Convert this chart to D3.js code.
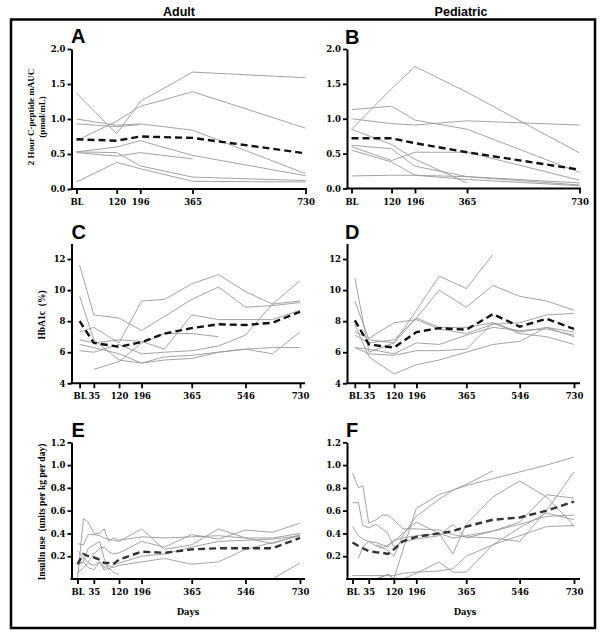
<!DOCTYPE html>
<html>
<head>
<meta charset="utf-8">
<script src="https://cdn.jsdelivr.net/npm/d3@7.9.0/dist/d3.min.js"></script>
<style>
  body { margin: 0; background: #fff; }
  svg { display: block; }
</style>
</head>
<body>
<svg id="chart" width="604" height="639"></svg>
<script>
// ---- C-peptide (panels A, B) ----
const cpepDays = [-10, 120, 196, 365, 730];
const cpepTicks = [-10, 120, 196, 365, 730];
const cpepTickLabels = ['BL', '120', '196', '365', '730'];
const cpepYTicks = [0, 0.5, 1, 1.5, 2];

const adultCpep = [
  [1.37, 0.79, 1.25, 1.67, 1.59],
  [0.69, 0.97, 1.18, 1.39, 0.87],
  [1.00, 0.91, 0.93, 0.84, 0.22],
  [0.93, 0.89, 0.92, null, null],
  [0.53, 0.60, 0.69, 0.48, 0.19],
  [0.53, 0.52, 0.33, 0.17, 0.12],
  [0.52, 0.47, 0.52, 0.43, null],
  [0.10, 0.38, 0.29, 0.11, 0.10]
];
const adultCpepMean = [0.71, 0.69, 0.75, 0.73, 0.51];

const pedCpep = [
  [1.13, 1.18, 0.98, 0.85, 0.23],
  [1.00, 0.93, 0.91, 0.97, 0.91],
  [0.85, 1.43, 1.75, 1.38, 0.51],
  [0.85, 0.63, 0.42, 0.08, null],
  [0.62, 0.57, 0.32, 0.17, 0.05],
  [0.60, 0.40, 0.52, 0.52, 0.12],
  [0.55, 0.38, 0.19, 0.13, 0.04],
  [0.18, 0.19, 0.19, 0.17, 0.08]
];
const pedCpepMean = [0.72, 0.72, 0.65, 0.52, 0.27];

// ---- HbA1c (panels C, D) ----
const a1cDays = [-13, 35, 120, 196, 273, 365, 455, 546, 637, 730];
const a1cTicks = [-13, 35, 120, 196, 365, 546, 730];
const a1cTickLabels = ['BL', '35', '120', '196', '365', '546', '730'];
const a1cYTicks = [4, 6, 8, 10, 12];

const adultA1c = [
  [11.6, 8.4, 8.2, 7.4, 8.3, 9.4, 10.2, 8.9, 9.0, 9.2],
  [7.3, 7.6, 6.6, 9.3, 9.4, 10.4, 11.0, 9.9, 9.1, 9.3],
  [9.6, 6.8, 5.5, 5.3, 5.5, 5.6, 6.0, 6.2, 5.9, 7.3],
  [6.8, 6.6, 6.8, 6.7, 6.2, 8.4, 8.1, 8.1, 8.1, 8.7],
  [6.5, 6.3, 5.9, 5.3, 5.7, 5.8, 6.0, 6.2, 6.3, 6.3],
  [6.1, 6.0, 6.5, 5.9, 6.0, 6.1, 6.4, 7.1, 9.1, 10.6],
  [null, 4.9, 5.4, 6.6, 7.2, 7.2, 7.0, null, null, null]
];
const adultA1cMean = [8.0, 6.6, 6.35, 6.65, 7.2, 7.55, 7.8, 7.75, 7.9, 8.6];

const pedA1c = [
  [10.8, 6.0, 6.6, 8.2, 10.0, 8.9, 10.3, 9.6, 9.3, 8.7],
  [9.3, 6.8, 6.6, 8.7, 10.9, 10.1, 12.3, null, null, null],
  [7.3, 6.9, 7.9, 8.1, 7.5, 7.2, 7.8, 7.9, 8.4, 8.5],
  [7.1, 6.6, 6.8, 8.2, 7.6, 7.6, 7.9, 7.3, 7.6, 7.3],
  [6.3, 6.2, 5.9, 6.6, 6.5, 7.1, 7.6, 7.4, 7.5, 7.1],
  [6.3, 5.9, 5.8, 6.1, 6.1, 6.2, 7.9, 7.2, 7.0, 6.5],
  [7.8, 5.7, 4.6, 5.2, 5.5, 6.0, 6.5, 6.7, 7.6, 7.0]
];
const pedA1cMean = [8.05, 6.5, 6.3, 7.3, 7.55, 7.45, 8.45, 7.65, 8.15, 7.5];

// ---- Insulin use (panels E, F) ----
const insTicks = [-20, 35, 120, 196, 365, 546, 730];
const insTickLabels = ['BL', '35', '120', '196', '365', '546', '730'];
const insYTicks = [0.2, 0.4, 0.6, 0.8, 1.0, 1.2];

const adultInsDays = [-20, 0, 16, 35, 55, 70, 85, 100, 120, 196, 273, 365, 455, 546, 637, 730];
const adultIns = [
  [0.00, 0.53, 0.50, 0.40, 0.40, 0.44, 0.33, 0.36, 0.34, 0.37, 0.36, 0.37, 0.38, 0.36, 0.36, 0.40],
  [0.31, 0.30, 0.39, 0.39, 0.38, 0.36, 0.35, 0.34, 0.33, 0.44, 0.26, 0.30, 0.44, 0.36, 0.31, 0.39],
  [0.25, 0.18, 0.15, 0.22, 0.27, 0.28, 0.24, 0.22, 0.23, 0.33, 0.28, 0.39, 0.35, 0.43, 0.41, 0.49],
  [0.14, 0.15, 0.10, 0.08, 0.15, 0.10, 0.12, 0.10, 0.12, 0.15, 0.18, 0.13, 0.15, 0.26, 0.32, 0.38],
  [0.12, 0.15, 0.27, 0.30, 0.33, 0.18, 0.08, 0.12, 0.14, 0.20, 0.22, 0.28, 0.33, 0.34, 0.35, 0.38],
  [0.05, 0.10, 0.14, 0.12, 0.15, 0.08, 0.10, 0.06, 0.04, null, null, null, null, null, null, null],
  [null, null, null, null, null, null, null, null, null, null, null, null, null, null, 0.00, 0.14]
];
const adultInsMean = [0.13, 0.22, 0.20, 0.19, 0.17, 0.14, 0.14, 0.13, 0.17, 0.24, 0.23, 0.26, 0.27, 0.27, 0.27, 0.36];

const pedInsDays = [-20, 0, 15, 35, 60, 80, 100, 120, 150, 196, 273, 320, 365, 455, 546, 637, 730];
const pedIns = [
  [0.93, 0.80, 0.82, 0.49, 0.52, 0.56, 0.56, 0.52, 0.44, 0.44, 0.43, 0.39, 0.37, 0.36, 0.33, 0.60, 0.94],
  [0.67, 0.67, 0.47, 0.45, 0.48, 0.44, 0.40, 0.28, 0.33, 0.35, 0.38, 0.48, 0.36, 0.42, 0.50, 0.74, 0.71],
  [0.46, 0.38, 0.35, 0.33, 0.32, 0.30, 0.28, 0.34, 0.36, 0.38, 0.40, 0.36, 0.38, 0.42, 0.48, 0.55, 0.56],
  [0.00, 0.00, 0.00, 0.00, 0.00, 0.02, 0.04, 0.00, 0.25, 0.62, 0.74, 0.78, 0.83, 0.95, null, null, null],
  [null, null, null, null, 0.30, 0.28, 0.25, 0.20, 0.38, 0.55, 0.70, 0.78, 0.82, 0.88, 0.94, 1.00, 1.07],
  [0.03, 0.03, 0.03, 0.03, 0.03, 0.03, 0.03, 0.03, 0.05, 0.06, 0.07, 0.09, 0.20, 0.30, 0.38, 0.46, 0.47],
  [0.00, 0.00, 0.00, 0.00, 0.00, 0.02, 0.04, 0.00, 0.00, 0.05, 0.15, 0.06, 0.06, 0.30, 0.45, 0.58, 0.52],
  [null, 0.18, 0.28, 0.33, 0.29, 0.27, 0.30, 0.33, 0.40, 0.50, 0.40, 0.22, 0.48, 0.72, 0.86, 0.72, 0.47]
];
const pedInsMean = [0.32, 0.29, 0.27, 0.245, 0.235, 0.23, 0.22, 0.26, 0.33, 0.37, 0.40, 0.42, 0.46, 0.52, 0.54, 0.60, 0.68];

const svg = d3.select('#chart');

// outer frame + column titles
svg.append('rect')
  .attr('x', 11).attr('y', 19.5).attr('width', 584).attr('height', 608.5)
  .attr('fill', 'none').attr('stroke', '#000').attr('stroke-width', 2.5);

svg.append('text').attr('x', 179).attr('y', 16).attr('text-anchor', 'middle')
  .attr('font-family', 'Liberation Sans, Arial, sans-serif').attr('font-weight', 'bold')
  .attr('font-size', 12.5).text('Adult');
svg.append('text').attr('x', 461).attr('y', 16).attr('text-anchor', 'middle')
  .attr('font-family', 'Liberation Sans, Arial, sans-serif').attr('font-weight', 'bold')
  .attr('font-size', 12.5).text('Pediatric');

const tickFont = 'DejaVu Serif, serif';
const titleFont = 'Liberation Serif, Times New Roman, serif';

function drawPanel(p) {
  let x = d3.scaleLinear().domain(p.xDomain).range(p.xRange);
  let y = d3.scaleLinear().domain(p.yDomain).range(p.yRange);
  let g = svg.append('g');

  let line = d3.line()
    .defined((d) => d[1] != null)
    .x((d) => x(d[0]))
    .y((d) => y(d[1]));

  p.subjects.forEach((s) => {
    g.append('path')
      .attr('d', line(p.days.map((d, i) => [d, s[i]])))
      .attr('fill', 'none')
      .attr('stroke', '#999')
      .attr('stroke-width', 0.9);
  });

  // group mean, dashed
  g.append('path')
    .attr('d', line(p.days.map((d, i) => [d, p.mean[i]])))
    .attr('fill', 'none')
    .attr('stroke', p.meanColor || '#111')
    .attr('stroke-width', 2.4)
    .attr('stroke-dasharray', '7,4');

  let yAxis = g.append('g')
    .attr('transform', `translate(${p.axisX},0)`)
    .call(d3.axisLeft(y).tickValues(p.yTicks).tickFormat(p.yFmt).tickSize(4).tickSizeOuter(0).tickPadding(2));

  let xAxis = g.append('g')
    .attr('transform', `translate(0,${p.yRange[0]})`)
    .call(d3.axisBottom(x).tickValues(p.xTicks).tickFormat((d, i) => p.xLabels[i]).tickSize(5).tickSizeOuter(0).tickPadding(5));
  xAxis.select('.domain').remove();
  g.append('line')
    .attr('x1', p.axisX - 1).attr('x2', p.axisEnd)
    .attr('y1', p.yRange[0]).attr('y2', p.yRange[0])
    .attr('stroke', '#000').attr('stroke-width', 2);

  [yAxis, xAxis].forEach((ax) => {
    ax.selectAll('.domain').attr('stroke', '#000').attr('stroke-width', 2);
    ax.selectAll('.tick line').attr('stroke', '#000').attr('stroke-width', 1.8);
    ax.selectAll('.tick text')
      .attr('font-family', tickFont)
      .attr('font-weight', 'bold')
      .attr('font-size', 8.5)
      .attr('fill', '#000');
  });

  g.append('text')
    .attr('x', p.letterX).attr('y', p.letterY)
    .attr('font-family', 'Liberation Sans, Arial, sans-serif')
    .attr('font-weight', 'bold').attr('font-size', 20)
    .text(p.letter);

  if (p.yTitle) {
    p.yTitle.forEach((t, i) => {
      g.append('text')
        .attr('transform', `translate(${p.yTitleX[i]},${p.yTitleY}) rotate(-90)`)
        .attr('text-anchor', 'middle')
        .attr('dy', '0.35em')
        .attr('font-family', titleFont)
        .attr('font-weight', 'bold')
        .attr('font-size', p.yTitleSize)
        .style('white-space', 'pre')
        .text(t);
    });
  }
  if (p.xTitle) {
    g.append('text')
      .attr('x', p.xTitleX).attr('y', p.xTitleY)
      .attr('text-anchor', 'middle')
      .attr('font-family', tickFont)
      .attr('font-weight', 'bold')
      .attr('font-size', 8.5)
      .text(p.xTitle);
  }
}

const fmt1 = d3.format('.1f');

drawPanel({
  letter: 'A', letterX: 71, letterY: 43,
  days: cpepDays, subjects: adultCpep, mean: adultCpepMean,
  xDomain: [-10, 730], xRange: [76.5, 305.5], axisX: 71.5, axisEnd: 307,
  yDomain: [0, 2], yRange: [189, 49], yTicks: cpepYTicks, yFmt: fmt1,
  xTicks: cpepTicks, xLabels: cpepTickLabels,
  yTitle: ['2 Hour C-peptide mAUC', '(pmol/mL)'], yTitleX: [30.5, 41.5], yTitleY: 117, yTitleSize: 9
});
drawPanel({
  letter: 'B', letterX: 345, letterY: 44,
  days: cpepDays, subjects: pedCpep, mean: pedCpepMean,
  xDomain: [-10, 730], xRange: [351.5, 579.5], axisX: 347, axisEnd: 581,
  yDomain: [0, 2], yRange: [188.5, 49], yTicks: cpepYTicks, yFmt: fmt1,
  xTicks: cpepTicks, xLabels: cpepTickLabels
});
drawPanel({
  letter: 'C', letterX: 71.5, letterY: 239,
  days: a1cDays, subjects: adultA1c, mean: adultA1cMean,
  xDomain: [-10, 730], xRange: [80.5, 300], axisX: 71.5, axisEnd: 305,
  yDomain: [4, 13], yRange: [383.3, 243.5], yTicks: a1cYTicks, yFmt: d3.format('d'),
  xTicks: a1cTicks, xLabels: a1cTickLabels,
  yTitle: ['HbA1c  (%)'], yTitleX: [41.5], yTitleY: 315, yTitleSize: 9.5
});
drawPanel({
  letter: 'D', letterX: 345, letterY: 239,
  days: a1cDays, subjects: pedA1c, mean: pedA1cMean,
  xDomain: [-10, 730], xRange: [355.7, 574], axisX: 347, axisEnd: 580,
  yDomain: [4, 13], yRange: [383.3, 243.5], yTicks: a1cYTicks, yFmt: d3.format('d'),
  xTicks: a1cTicks, xLabels: a1cTickLabels
});
drawPanel({
  letter: 'E', letterX: 71.5, letterY: 437,
  days: adultInsDays, subjects: adultIns, mean: adultInsMean, meanColor: '#333',
  xDomain: [-20, 730], xRange: [77.5, 300], axisX: 71.5, axisEnd: 305,
  yDomain: [0, 1.2], yRange: [579, 442.3], yTicks: insYTicks, yFmt: fmt1,
  xTicks: insTicks, xLabels: insTickLabels,
  yTitle: ['Insulin use  (units per kg per day)'], yTitleX: [41.5], yTitleY: 512, yTitleSize: 9.5,
  xTitle: 'Days', xTitleX: 188, xTitleY: 615
});
drawPanel({
  letter: 'F', letterX: 346, letterY: 437,
  days: pedInsDays, subjects: pedIns, mean: pedInsMean, meanColor: '#333',
  xDomain: [-20, 730], xRange: [352.5, 574], axisX: 347, axisEnd: 580,
  yDomain: [0, 1.2], yRange: [579, 442.3], yTicks: insYTicks, yFmt: fmt1,
  xTicks: insTicks, xLabels: insTickLabels,
  xTitle: 'Days', xTitleX: 465, xTitleY: 615
});
</script>
</body>
</html>
